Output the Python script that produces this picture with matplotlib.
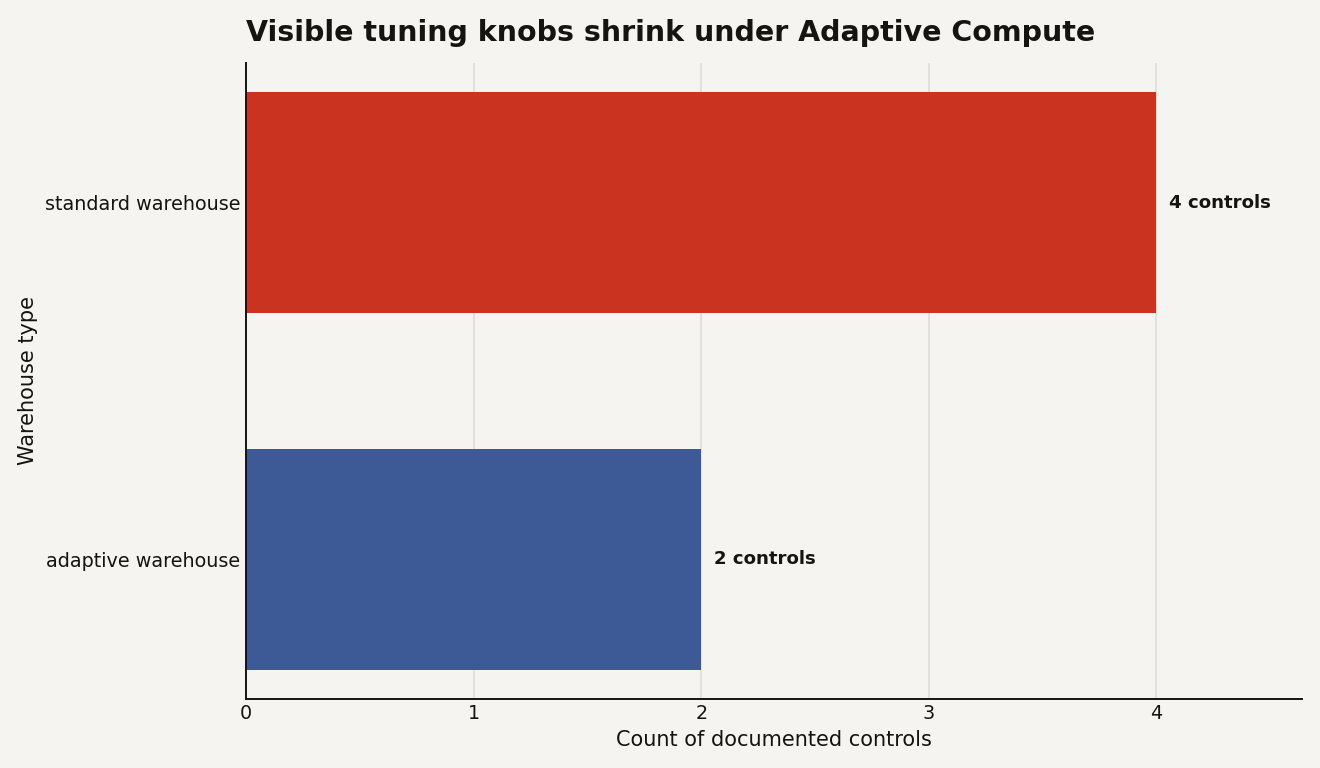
import matplotlib
matplotlib.use("Agg")
import matplotlib.pyplot as plt

categories = ["adaptive warehouse", "standard warehouse"]
counts = [2, 4]
colors = ["#3D5A96", "#C9331F"]
labels = ["%d controls" % c for c in counts]

bg = "#F5F4F0"
ink = "#161410"

fig, ax = plt.subplots(figsize=(13.2, 7.68), dpi=100)
fig.patch.set_facecolor(bg)
ax.set_facecolor(bg)

ax.barh(categories, counts, height=0.62, color=colors, zorder=2)
for i in range(len(counts)):
    ax.text(counts[i] + 0.055, i, labels[i], va="center", ha="left",
            fontsize=13.1, fontweight="bold", color=ink)

ax.set_xlim(0, 4.64)
ax.set_xticks([0, 1, 2, 3, 4])
ax.grid(axis="x", color="#DDDCD8", linewidth=1.2, zorder=0)
ax.set_axisbelow(True)
ax.tick_params(axis="both", length=0, labelsize=13.8, colors=ink, pad=4)

for s in ["top", "right"]:
    ax.spines[s].set_visible(False)
for s in ["left", "bottom"]:
    ax.spines[s].set_color(ink)
    ax.spines[s].set_linewidth(1.4)

ax.set_xlabel("Count of documented controls", fontsize=15, color=ink, labelpad=5)
ax.set_ylabel("Warehouse type", fontsize=15, color=ink, labelpad=5)
ax.set_title("Visible tuning knobs shrink under Adaptive Compute", fontsize=20.5,
             fontweight="bold", color=ink, loc="left", pad=16)

fig.subplots_adjust(left=0.1864, right=0.9864, top=0.918, bottom=0.09)
fig.savefig("out.png", dpi=100, facecolor=bg)
